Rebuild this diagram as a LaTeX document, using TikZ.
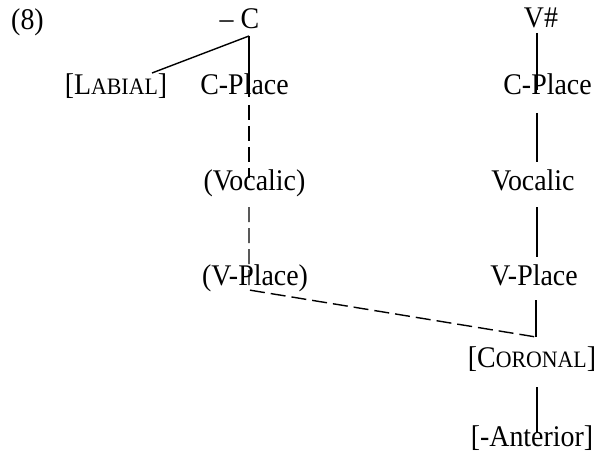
\documentclass[tikz,border=0pt]{standalone}
\usepackage{fontspec}
\setmainfont[FakeStretch=0.93]{Liberation Serif}
\newcommand{\mysc}[1]{{\fontsize{23.5}{26}\selectfont #1}}
\begin{document}
\begin{tikzpicture}[x=1pt,y=-1pt,
  lbl/.style={anchor=base,inner sep=0pt,font=\fontsize{30}{32}\selectfont},
  ln/.style={line width=1.4pt},
  dln/.style={line width=1.4pt,dash pattern=on 15pt off 6pt}]
\useasboundingbox[fill=white] (0,0) rectangle (601,454);
% texts
\node[lbl] (ex) at (27.5,30) {(8)};
\node[lbl] (mc) at (239.5,29) {– C};
\node[lbl] (vh) at (541,28) {V\#};
\node[lbl] (lab) at (116,95) {[L\mysc{ABIAL}]};
\node[lbl] (cpl) at (244.5,95) {C-Place};
\node[lbl] (cpr) at (547.5,95) {C-Place};
\node[lbl] (vocl) at (254.5,190) {(Vocalic)};
\node[lbl] (vocr) at (533,190) {Vocalic};
\node[lbl] (vpl) at (255,285) {(V-Place)};
\node[lbl] (vpr) at (534,285) {V-Place};
\node[lbl] (cor) at (532,367) {[C\mysc{ORONAL}]};
\node[lbl] (ant) at (532,446) {[-Anterior]};
% connector points
\coordinate (mcb) at (249,36);
\coordinate (labt) at (152,73);
\coordinate (cplb) at (249,97);
\coordinate (cplbb) at (249,105);
\coordinate (vocltop) at (249,178);
\coordinate (voclbot) at (249,207);
\coordinate (vpljoin) at (249,290);
\coordinate (corjoin) at (536,337);
\coordinate (vprb) at (536,300);
\coordinate (vht) at (537,33);
\coordinate (cprt) at (537,90);
\coordinate (cprb) at (537,113);
\coordinate (vocrt) at (537,162);
\coordinate (vocrb) at (537,207);
\coordinate (vprt) at (537,257);
\coordinate (corb) at (537,387);
\coordinate (antt) at (537,433);
% lines
\draw[ln] (mcb) -- (cplb);
\draw[ln] (mcb) -- (labt);
\draw[dln] (cplbb) -- (vocltop);
\draw[dln] (voclbot) -- (vpljoin) -- (corjoin);
\draw[ln] (corjoin) -- (vprb);
\draw[ln] (vht) -- (cprt);
\draw[ln] (cprb) -- (vocrt);
\draw[ln] (vocrb) -- (vprt);
\draw[ln] (corb) -- (antt);
\end{tikzpicture}
\end{document}
